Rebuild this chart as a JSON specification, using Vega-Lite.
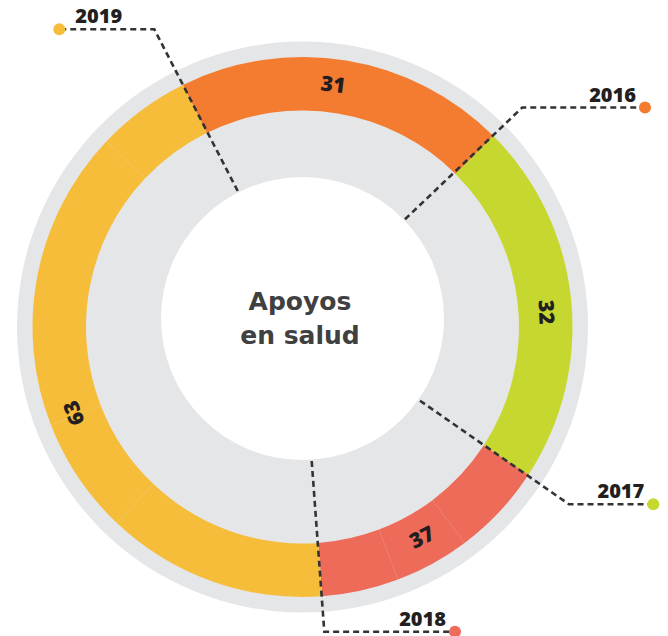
{
  "$schema": "https://vega.github.io/schema/vega-lite/v6.json",
  "width": 668,
  "height": 636,
  "padding": 0,
  "autosize": {"type": "none"},
  "background": "white",
  "config": {"view": {"stroke": null}, "axis": {"disable": true}},
  "datasets": {
    "segmentos": [
      {"year": 2016, "seq": 1, "arco": 71.3},
      {"year": 2017, "seq": 2, "arco": 78.2},
      {"year": 2018, "seq": 3, "arco": 19.9},
      {"year": 2018, "seq": 4, "arco": 16.2},
      {"year": 2018, "seq": 5, "arco": 16.5},
      {"year": 2019, "seq": 6, "arco": 47.7},
      {"year": 2019, "seq": 7, "arco": 25.2},
      {"year": 2019, "seq": 8, "arco": 64.7},
      {"year": 2019, "seq": 9, "arco": 20.3}
    ],
    "apoyos": [
      {"year": 2016, "apoyos": 31},
      {"year": 2017, "apoyos": 32},
      {"year": 2018, "apoyos": 37},
      {"year": 2019, "apoyos": 63}
    ],
    "guias": [
      {"year": 2019, "orden": 1, "x": -64.8, "y": 136},
      {"year": 2019, "orden": 2, "x": -148.2, "y": 297.7},
      {"year": 2019, "orden": 3, "x": -243.2, "y": 297.7},
      {"year": 2016, "orden": 1, "x": 102.5, "y": 107.7},
      {"year": 2016, "orden": 2, "x": 219.8, "y": 219.5},
      {"year": 2016, "orden": 3, "x": 342.5, "y": 219.5},
      {"year": 2017, "orden": 1, "x": 117.5, "y": -73.7},
      {"year": 2017, "orden": 2, "x": 266.5, "y": -177.3},
      {"year": 2017, "orden": 3, "x": 350.8, "y": -177.3},
      {"year": 2018, "orden": 1, "x": 9.2, "y": -134},
      {"year": 2018, "orden": 2, "x": 21.8, "y": -304.7},
      {"year": 2018, "orden": 3, "x": 152.5, "y": -304.7}
    ],
    "titulo": [{"texto": "Apoyos", "linea": 1}, {"texto": "en salud", "linea": 2}]
  },
  "layer": [
    {
      "data": {"values": [{"capa": "fondo"}]},
      "mark": {"type": "arc", "radius": 285.5, "radius2": 0, "theta": 0, "theta2": 6.2832, "color": "#e5e6e8"},
      "encoding": {
        "x": {"datum": 0, "type": "quantitative", "scale": {"domain": [-302.5, 365.5], "nice": false, "zero": false}, "axis": null},
        "y": {"datum": 0, "type": "quantitative", "scale": {"domain": [-309, 327], "nice": false, "zero": false}, "axis": null}
      }
    },
    {
      "data": {"name": "segmentos"},
      "mark": {"type": "arc", "radius": 270, "radius2": 216.5},
      "encoding": {
        "x": {"datum": 0, "type": "quantitative"},
        "y": {"datum": 0, "type": "quantitative"},
        "theta": {"field": "arco", "type": "quantitative", "stack": true, "scale": {"domain": [0, 360], "range": [-0.45902, 5.82416], "nice": false}},
        "order": {"field": "seq"},
        "color": {"field": "year", "type": "nominal", "scale": {"domain": [2016, 2017, 2018, 2019], "range": ["#f47c31", "#c6d82f", "#ee6a59", "#f6bd3b"]}, "legend": null}
      }
    },
    {
      "data": {"values": [{"capa": "centro"}]},
      "mark": {"type": "arc", "radius": 141.5, "radius2": 0, "theta": 0, "theta2": 6.2832, "color": "#ffffff"},
      "encoding": {
        "x": {"datum": 0, "type": "quantitative"},
        "y": {"datum": 8.5, "type": "quantitative"}
      }
    },
    {
      "data": {"name": "guias"},
      "mark": {"type": "line", "strokeDash": [6, 4], "strokeWidth": 2.6, "color": "#333333"},
      "encoding": {
        "x": {"field": "x", "type": "quantitative"},
        "y": {"field": "y", "type": "quantitative"},
        "detail": {"field": "year"},
        "order": {"field": "orden"}
      }
    },
    {
      "data": {"name": "guias"},
      "transform": [{"filter": "datum.orden == 3"}],
      "mark": {"type": "circle", "size": 145, "opacity": 1},
      "encoding": {
        "x": {"field": "x", "type": "quantitative"},
        "y": {"field": "y", "type": "quantitative"},
        "color": {"field": "year", "type": "nominal", "legend": null}
      }
    },
    {
      "data": {"name": "guias"},
      "transform": [{"filter": "datum.orden == 3 && datum.year != 2019"}],
      "mark": {"type": "text", "align": "right", "baseline": "middle", "dx": -9, "dy": -12, "font": "Open Sans", "fontWeight": 800, "fontSize": 20, "color": "#231f20"},
      "encoding": {
        "x": {"field": "x", "type": "quantitative"},
        "y": {"field": "y", "type": "quantitative"},
        "text": {"field": "year"}
      }
    },
    {
      "data": {"name": "guias"},
      "transform": [{"filter": "datum.orden == 3 && datum.year == 2019"}],
      "mark": {"type": "text", "align": "left", "baseline": "middle", "dx": 16, "dy": -12, "font": "Open Sans", "fontWeight": 800, "fontSize": 20, "color": "#231f20"},
      "encoding": {
        "x": {"field": "x", "type": "quantitative"},
        "y": {"field": "y", "type": "quantitative"},
        "text": {"field": "year"}
      }
    },
    {
      "data": {"name": "apoyos"},
      "transform": [{"filter": "datum.year == 2016"}],
      "mark": {"type": "text", "radius": 243, "angle": 7, "align": "center", "baseline": "middle", "font": "Open Sans", "fontWeight": 800, "fontSize": 21, "color": "#231f20"},
      "encoding": {
        "x": {"datum": 0, "type": "quantitative"},
        "y": {"datum": 0, "type": "quantitative"},
        "theta": {"datum": 33.5, "type": "quantitative"},
        "text": {"field": "apoyos"}
      }
    },
    {
      "data": {"name": "apoyos"},
      "transform": [{"filter": "datum.year == 2017"}],
      "mark": {"type": "text", "radius": 243, "angle": 87, "align": "center", "baseline": "middle", "font": "Open Sans", "fontWeight": 800, "fontSize": 21, "color": "#231f20"},
      "encoding": {
        "x": {"datum": 0, "type": "quantitative"},
        "y": {"datum": 0, "type": "quantitative"},
        "theta": {"datum": 112.8, "type": "quantitative"},
        "text": {"field": "apoyos"}
      }
    },
    {
      "data": {"name": "apoyos"},
      "transform": [{"filter": "datum.year == 2018"}],
      "mark": {"type": "text", "radius": 243, "angle": -27, "align": "center", "baseline": "middle", "font": "Open Sans", "fontWeight": 800, "fontSize": 21, "color": "#231f20"},
      "encoding": {
        "x": {"datum": 0, "type": "quantitative"},
        "y": {"datum": 0, "type": "quantitative"},
        "theta": {"datum": 176.7, "type": "quantitative"},
        "text": {"field": "apoyos"}
      }
    },
    {
      "data": {"name": "apoyos"},
      "transform": [{"filter": "datum.year == 2019"}],
      "mark": {"type": "text", "radius": 243, "angle": -110, "align": "center", "baseline": "middle", "font": "Open Sans", "fontWeight": 800, "fontSize": 21, "color": "#231f20"},
      "encoding": {
        "x": {"datum": 0, "type": "quantitative"},
        "y": {"datum": 0, "type": "quantitative"},
        "theta": {"datum": 275.7, "type": "quantitative"},
        "text": {"field": "apoyos"}
      }
    },
    {
      "data": {"name": "titulo"},
      "transform": [{"filter": "datum.linea == 1"}],
      "mark": {"type": "text", "align": "center", "baseline": "alphabetic", "dx": -2.5, "dy": -17.5, "font": "DejaVu Sans", "fontWeight": "bold", "fontSize": 25, "color": "#404041"},
      "encoding": {
        "x": {"datum": 0, "type": "quantitative"},
        "y": {"datum": 0, "type": "quantitative"},
        "text": {"field": "texto"}
      }
    },
    {
      "data": {"name": "titulo"},
      "transform": [{"filter": "datum.linea == 2"}],
      "mark": {"type": "text", "align": "center", "baseline": "alphabetic", "dx": -2.5, "dy": 17, "font": "DejaVu Sans", "fontWeight": "bold", "fontSize": 25, "color": "#404041"},
      "encoding": {
        "x": {"datum": 0, "type": "quantitative"},
        "y": {"datum": 0, "type": "quantitative"},
        "text": {"field": "texto"}
      }
    }
  ]
}
